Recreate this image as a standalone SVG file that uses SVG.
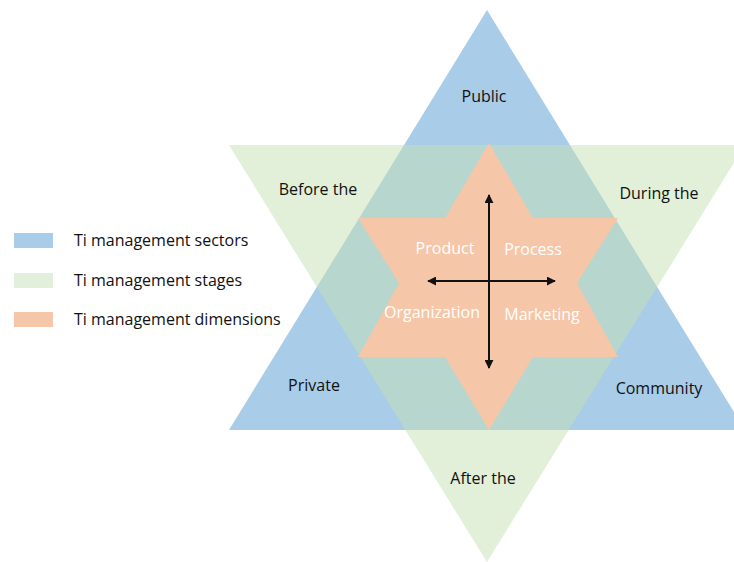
<svg xmlns="http://www.w3.org/2000/svg" width="734" height="562" viewBox="0 0 734 562">
<defs>
<style>
.lbl{font-family:"Open Sans","Liberation Sans",sans-serif;font-size:16px;fill:#111;text-anchor:middle}
.wlbl{font-family:"Open Sans","Liberation Sans",sans-serif;font-size:16px;fill:#fff;text-anchor:middle}
.leg{font-family:"Open Sans","Liberation Sans",sans-serif;font-size:16px;fill:#111}
.blue{fill:#a9cce8}
.green{fill:#c5e0b4;fill-opacity:0.5}
.orange{fill:#f6c6a9}
.arr{stroke:#111;stroke-width:2;fill:none;marker-start:url(#ah);marker-end:url(#ah)}
</style>
<marker id="ah" viewBox="0 0 10 10" refX="9" refY="5" markerWidth="4.5" markerHeight="4.5" orient="auto-start-reverse" markerUnits="strokeWidth">
<path d="M0,0 L10,5 L0,10 z" fill="#111"/>
</marker>
</defs>
<rect width="734" height="562" fill="#fff"/>
<g id="sectors">
<polygon class="blue" points="487,10 229,430 745,430"/>
</g>
<g id="stages">
<polygon class="green" points="229,145 745,145 487,562"/>
</g>
<g id="dimensions">
<polygon class="orange" points="489,143 533,218 618,218 577,283 618,357 533,357 489,430 445,357 358,357 399,283 358,218 445,218"/>
</g>
<g id="connectors">
<line class="arr" x1="489" y1="368" x2="489" y2="195"/>
<line class="arr" x1="555" y1="281" x2="428" y2="281"/>
</g>
<g id="node-public"><text class="lbl" x="484" y="102">Public</text></g>
<g id="node-before"><text class="lbl" x="318" y="195">Before the</text></g>
<g id="node-during"><text class="lbl" x="659" y="199">During the</text></g>
<g id="node-private"><text class="lbl" x="314" y="391">Private</text></g>
<g id="node-community"><text class="lbl" x="659" y="394">Community</text></g>
<g id="node-after"><text class="lbl" x="483" y="484">After the</text></g>
<g id="node-product"><text class="wlbl" x="445" y="254">Product</text></g>
<g id="node-process"><text class="wlbl" x="533" y="255">Process</text></g>
<g id="node-organization"><text class="wlbl" x="432" y="318">Organization</text></g>
<g id="node-marketing"><text class="wlbl" x="542" y="320">Marketing</text></g>
<g id="legend">
<rect x="14" y="233" width="39" height="15" fill="#a9cce8"/>
<rect x="14" y="273" width="39" height="15" fill="#e2efda"/>
<rect x="14" y="312" width="39" height="15" fill="#f6c6a9"/>
<text class="leg" x="74" y="246">Ti management sectors</text>
<text class="leg" x="74" y="286">Ti management stages</text>
<text class="leg" x="74" y="325">Ti management dimensions</text>
</g>
</svg>
